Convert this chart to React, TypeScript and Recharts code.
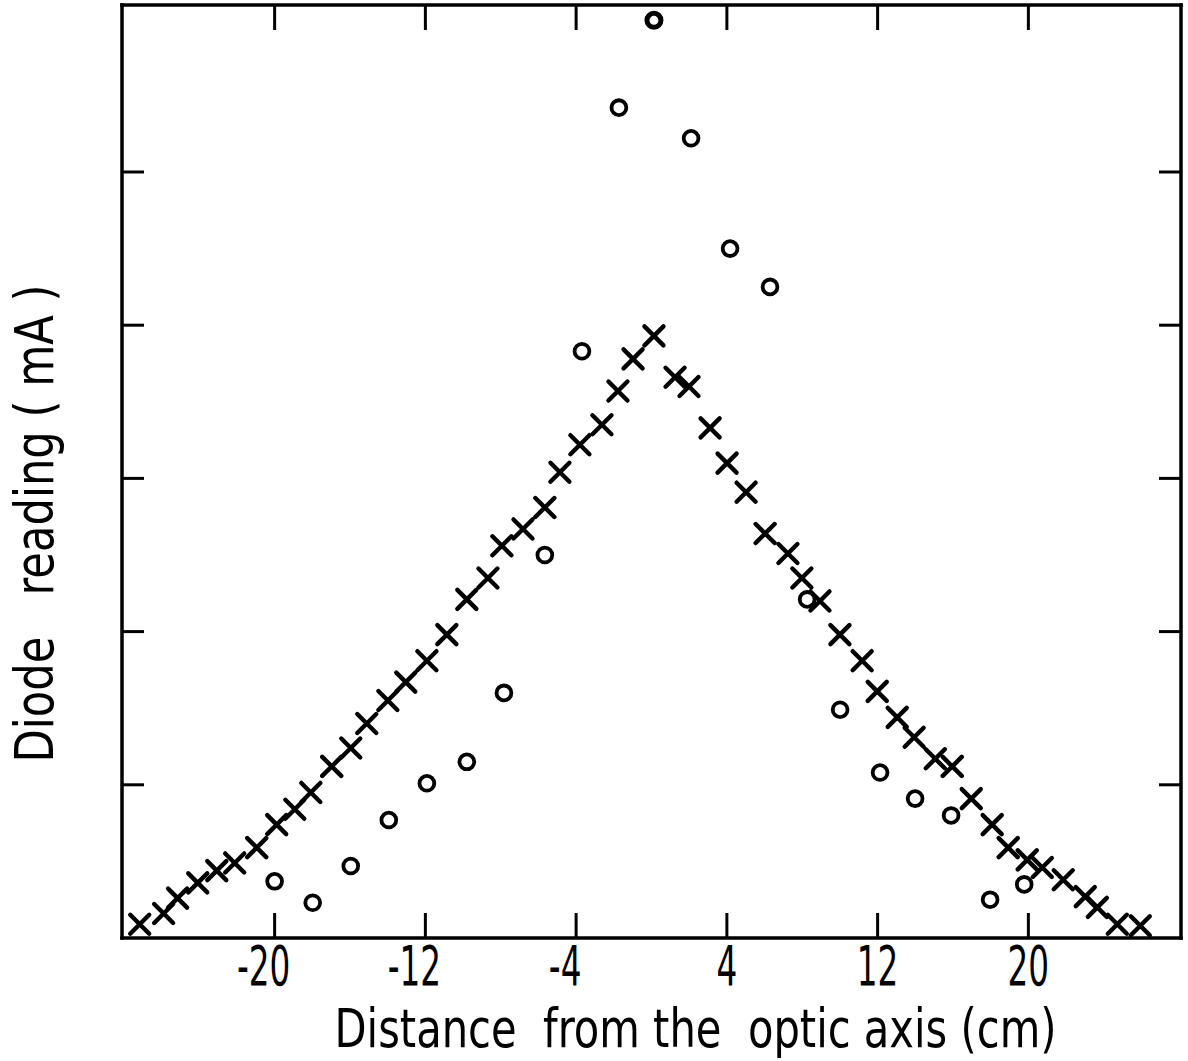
import { ScatterChart, Scatter, XAxis, YAxis } from 'recharts'

const INK = '#000'
const FONT = '"DejaVu Sans Condensed", "DejaVu Sans", sans-serif'

const xTicks = [-20, -12, -4, 4, 12, 20]
const yTicks = [1, 2, 3, 4, 5]

// crosses (x marks), distance in cm and reading in tick units
const crossX = [
  -27.16, -25.89, -25.15, -24.08, -23.07, -22.12, -20.95, -19.89, -18.93, -18.08,
  -16.97, -15.96, -15.11, -13.99, -13.04, -11.92, -10.86, -9.8, -8.68, -7.94,
  -6.82, -5.66, -4.86, -3.8, -2.63, -1.78, -0.98, 0.13,
  1.25, 1.99, 3.11, 4.01, 5.02, 6.03, 7.24, 7.98, 8.94, 10.0,
  11.18, 11.98, 13.04, 13.94, 15.06, 15.96, 16.97, 18.08, 18.93, 19.94,
  20.74, 21.85, 23.02, 23.66, 24.72, 25.94,
]
const crossY = [
  0.09, 0.16, 0.26, 0.36, 0.44, 0.49, 0.59, 0.74, 0.84, 0.95,
  1.12, 1.24, 1.4, 1.55, 1.67, 1.81, 1.98, 2.21, 2.35, 2.56,
  2.67, 2.81, 3.04, 3.22, 3.35, 3.57, 3.78, 3.93,
  3.66, 3.6, 3.33, 3.1, 2.91, 2.64, 2.51, 2.35, 2.2, 1.98,
  1.81, 1.61, 1.44, 1.31, 1.17, 1.12, 0.91, 0.74, 0.59, 0.51,
  0.46, 0.38, 0.27, 0.2, 0.09, 0.08,
]

// circles (o marks)
const circleX = [
  -20.0, -17.98, -15.96, -13.94, -11.92, -9.8, -7.83, -5.66, -3.69, -1.73, 0.13,
  2.1, 4.17, 6.29, 8.26, 10.01, 12.13, 13.99, 15.9, 17.97, 19.78,
]
const circleY = [
  0.37, 0.23, 0.47, 0.77, 1.01, 1.15, 1.6, 2.5, 3.83, 5.42, 5.99,
  5.22, 4.5, 4.25, 2.21, 1.49, 1.08, 0.91, 0.8, 0.25, 0.35,
]

const crosses = crossX.map((x, i) => ({ x, y: crossY[i] }))
const circles = circleX.map((x, i) => ({ x, y: circleY[i] }))
const peak = Math.max(...circleY)

const Cross = (p: any) => {
  const { cx, cy } = p
  const a = 9.5
  return (
    <path
      d={`M${cx - a},${cy - a}L${cx + a},${cy + a}M${cx - a},${cy + a}L${cx + a},${cy - a}`}
      stroke={INK}
      strokeWidth={4.4}
      strokeLinecap="round"
      fill="none"
    />
  )
}

const Ring = (p: any) => {
  const { cx, cy, payload } = p
  const bold = payload && payload.y === peak
  return <circle cx={cx} cy={cy} r={bold ? 7 : 7.4} fill="none" stroke={INK} strokeWidth={bold ? 5 : 3.8} />
}

const BottomTick = (p: any) => {
  const { x, y, payload } = p
  const s = String(payload.value)
  const shift = s.startsWith('-') ? -11 : 0
  return (
    <g>
      <line x1={x} y1={y} x2={x} y2={y - 25} stroke={INK} strokeWidth={3} />
      <text
        transform={`translate(${x + shift},${y + 47}) scale(0.66,1)`}
        textAnchor="middle"
        fontSize={55}
        fontFamily={FONT}
        fill={INK}
      >
        {s}
      </text>
    </g>
  )
}

const TopTick = (p: any) => (
  <line x1={p.x} y1={p.y} x2={p.x} y2={p.y + 25} stroke={INK} strokeWidth={3} />
)
const LeftTick = (p: any) => (
  <line x1={p.x} y1={p.y} x2={p.x + 22} y2={p.y} stroke={INK} strokeWidth={3} />
)
const RightTick = (p: any) => (
  <line x1={p.x} y1={p.y} x2={p.x - 22} y2={p.y} stroke={INK} strokeWidth={3} />
)

const XTitle = (p: any) => {
  const vb = p.viewBox
  return (
    <text
      x={vb.x + vb.width / 2 + 44}
      y={vb.y + 109}
      textAnchor="middle"
      fontSize={54}
      fontFamily={FONT}
      fill={INK}
      textLength={722}
      lengthAdjust="spacingAndGlyphs"
      style={{ whiteSpace: 'pre' }}
    >
      {'Distance  from the  optic axis (cm)'}
    </text>
  )
}

const YTitle = (p: any) => {
  const vb = p.viewBox
  const cx = vb.x + 53
  const cy = vb.y + vb.height / 2 + 52
  return (
    <text
      x={cx}
      y={cy}
      transform={`rotate(-90,${cx},${cy})`}
      textAnchor="middle"
      fontSize={54}
      fontFamily={FONT}
      fill={INK}
      textLength={478}
      lengthAdjust="spacingAndGlyphs"
      style={{ whiteSpace: 'pre' }}
    >
      {'Diode   reading ( mA )'}
    </text>
  )
}

const frame = { stroke: INK, strokeWidth: 3.5, strokeLinecap: 'square' as const }

export default function App() {
  return (
    <div style={{ position: 'absolute', left: 0, top: 0, background: '#fff' }}>
      <ScatterChart width={1188} height={1061} margin={{ top: 0, right: 0, bottom: 0, left: 0 }}>
        <XAxis
          xAxisId="bottom"
          type="number"
          dataKey="x"
          domain={[-28.1, 28.1]}
          ticks={xTicks}
          interval={0}
          height={123}
          axisLine={frame}
          tickLine={false}
          tickSize={0}
          tickMargin={0}
          tick={BottomTick}
          label={{ content: XTitle }}
        />
        <XAxis
          xAxisId="top"
          orientation="top"
          type="number"
          dataKey="x"
          domain={[-28.1, 28.1]}
          ticks={xTicks}
          interval={0}
          height={5}
          axisLine={frame}
          tickLine={false}
          tickSize={0}
          tickMargin={0}
          tick={TopTick}
        />
        <YAxis
          yAxisId="left"
          type="number"
          dataKey="y"
          domain={[0, 6.09]}
          ticks={yTicks}
          interval={0}
          width={122}
          axisLine={frame}
          tickLine={false}
          tickSize={0}
          tickMargin={0}
          tick={LeftTick}
          label={{ content: YTitle }}
        />
        <YAxis
          yAxisId="right"
          orientation="right"
          type="number"
          dataKey="y"
          domain={[0, 6.09]}
          ticks={yTicks}
          interval={0}
          width={7}
          axisLine={frame}
          tickLine={false}
          tickSize={0}
          tickMargin={0}
          tick={RightTick}
        />
        <Scatter
          name="crosses"
          data={crosses}
          xAxisId="bottom"
          yAxisId="left"
          shape={Cross}
          isAnimationActive={false}
        />
        <Scatter
          name="circles"
          data={circles}
          xAxisId="top"
          yAxisId="right"
          shape={Ring}
          isAnimationActive={false}
        />
      </ScatterChart>
    </div>
  )
}
